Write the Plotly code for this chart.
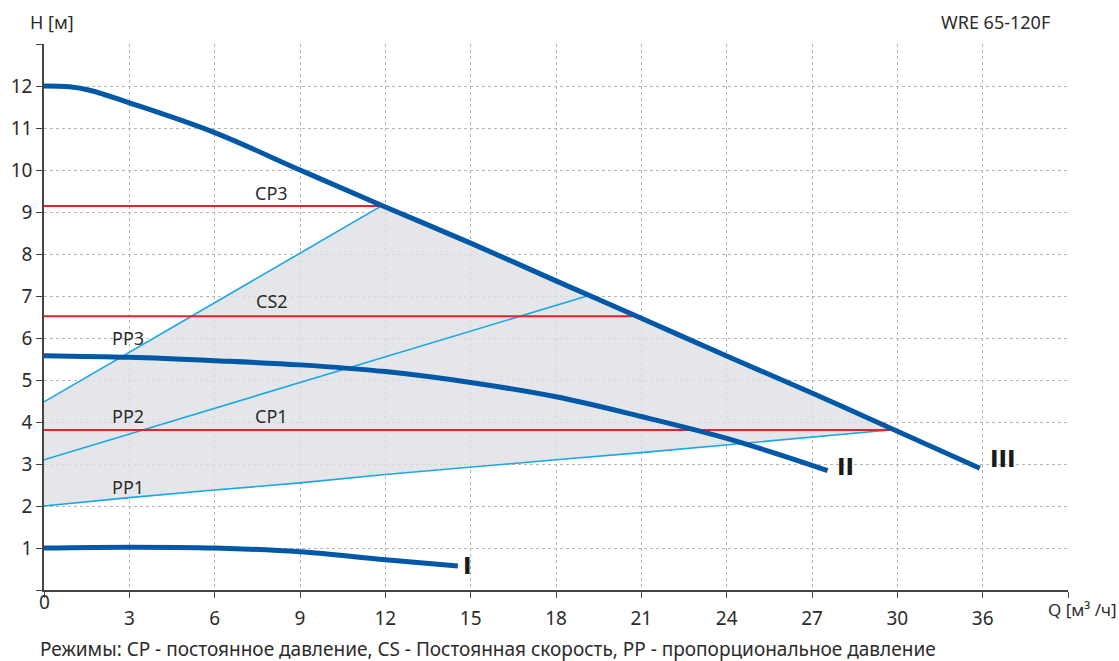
import numpy as np
import plotly.graph_objects as go

# ---- data ----
x_tick_vals = [0, 3, 6, 9, 12, 15, 18, 21, 24, 27, 30, 33, 36]
x_tick_text = ["", "3", "6", "9", "12", "15", "18", "21", "24", "27", "30", "36", ""]
y_tick_vals = list(range(0, 14))
y_tick_text = [""] + [str(v) for v in range(1, 13)] + [""]

curve3_x = [0, 0.9, 1.6, 3, 6, 9, 12, 15, 18, 21, 24, 27, 30, 32.9]
curve3_y = [12.0, 11.98, 11.9, 11.6, 10.89, 10.0, 9.12, 8.26, 7.36, 6.47, 5.57, 4.69, 3.78, 2.9]

curve2_x = [0, 3, 6, 9, 12, 15, 18, 21, 24, 27, 27.55]
curve2_y = [5.58, 5.54, 5.46, 5.36, 5.2, 4.94, 4.6, 4.13, 3.61, 2.97, 2.84]

curve1_x = [0, 3, 6, 9, 12, 14.55]
curve1_y = [1.0, 1.02, 1.0, 0.91, 0.72, 0.57]

pp1_x = [0, 3, 6, 9, 12, 15, 18, 21, 24, 27, 29.74]
pp1_y = [2.0, 2.2, 2.38, 2.55, 2.75, 2.93, 3.1, 3.27, 3.45, 3.63, 3.81]
pp2_x = [0, 19.09]
pp2_y = [3.1, 7.0]
pp3_x = [0, 11.85]
pp3_y = [4.48, 9.14]

cp3_x = [0, 11.85]; cp3_y = [9.14, 9.14]
cs2_x = [0, 20.67]; cs2_y = [6.52, 6.52]
cp1_x = [0, 29.74]; cp1_y = [3.81, 3.81]

mode_labels = ["CP3", "CS2", "PP3", "PP2", "CP1", "PP1"]
mode_label_x = [8.0, 8.0, 2.95, 2.95, 8.0, 2.95]
mode_label_y = [9.45, 6.88, 6.0, 4.14, 4.14, 2.45]

curve_labels = ["I", "II", "III"]
curve_label_x = [14.66, 27.8, 33.19]
curve_label_y = [0.57, 2.93, 3.12]

# ---- styles ----
DARK_BLUE = "#0058a6"
LIGHT_BLUE = "#1aa7e6"
RED = "#e52129"
TXT = "#2b2b2b"
FONT = "Noto Sans"

fig = go.Figure()

# shaded working area
seg_x = np.linspace(pp1_x[-1], pp3_x[-1], 30)
seg_y = np.interp(seg_x, curve3_x, curve3_y)
fill_x = list(pp1_x) + list(seg_x) + [pp3_x[0], pp1_x[0]]
fill_y = list(pp1_y) + list(seg_y) + [pp3_y[0], pp1_y[0]]
fig.add_trace(go.Scatter(x=fill_x, y=fill_y, mode="lines", fill="toself",
                         fillcolor="rgba(222,224,227,0.8)", line=dict(width=0),
                         hoverinfo="skip", showlegend=False))

for xs, ys in [(pp1_x, pp1_y), (pp2_x, pp2_y), (pp3_x, pp3_y)]:
    fig.add_trace(go.Scatter(x=xs, y=ys, mode="lines", line=dict(color=LIGHT_BLUE, width=1.6),
                             showlegend=False))
for xs, ys in [(cp3_x, cp3_y), (cs2_x, cs2_y), (cp1_x, cp1_y)]:
    fig.add_trace(go.Scatter(x=xs, y=ys, mode="lines", line=dict(color=RED, width=2),
                             showlegend=False))
for xs, ys in [(curve1_x, curve1_y), (curve2_x, curve2_y), (curve3_x, curve3_y)]:
    fig.add_trace(go.Scatter(x=xs, y=ys, mode="lines",
                             line=dict(color=DARK_BLUE, width=5, shape="spline", smoothing=1.0),
                             showlegend=False))

for t, x, y in zip(mode_labels, mode_label_x, mode_label_y):
    fig.add_annotation(x=x, y=y, text=t, showarrow=False, font=dict(family=FONT, size=18, color=TXT))
for t, x, y in zip(curve_labels, curve_label_x, curve_label_y):
    fig.add_annotation(x=x, y=y, text=t, showarrow=False, xanchor="left",
                       font=dict(family="DejaVu Sans", size=23, color="#1a1a1a", weight="bold"))

# origin label
fig.add_annotation(x=0, y=0, yshift=-12, text="0", showarrow=False, yanchor="middle",
                   font=dict(family=FONT, size=19, color=TXT))

fig.add_annotation(xref="paper", yref="paper", x=-0.016, y=1.0, yshift=22, text="H [м]",
                   showarrow=False, xanchor="left", yanchor="middle",
                   font=dict(family=FONT, size=18, color=TXT))
fig.add_annotation(xref="paper", yref="paper", x=0.9845, y=1.0, yshift=22, text="WRE 65-120F",
                   showarrow=False, xanchor="right", yanchor="middle",
                   font=dict(family=FONT, size=18, color=TXT))
fig.add_annotation(xref="paper", yref="paper", x=1.0, y=0, yshift=-19, xshift=-22, text="Q [м³ /ч]",
                   showarrow=False, xanchor="left", yanchor="middle",
                   font=dict(family=FONT, size=17, color=TXT))
fig.add_annotation(xref="paper", yref="paper", x=-0.006, y=0, yshift=-59,
                   text="Режимы: CP - постоянное давление, CS - Постоянная скорость, PP - пропорциональное давление",
                   showarrow=False, xanchor="left", yanchor="middle",
                   font=dict(family=FONT, size=19, color=TXT))

fig.update_xaxes(range=[0, 36], tickmode="array", tickvals=x_tick_vals, ticktext=x_tick_text,
                 showgrid=True, gridcolor="#b5b5b5", griddash="dot", gridwidth=1,
                 showline=True, linecolor="#444", linewidth=1.5, ticks="outside", ticklen=6,
                 tickcolor="#444", zeroline=False, ticklabelstandoff=4,
                 tickfont=dict(family=FONT, size=19, color=TXT))
fig.update_yaxes(range=[0, 13], tickmode="array", tickvals=y_tick_vals, ticktext=y_tick_text,
                 showgrid=True, gridcolor="#b5b5b5", griddash="dot", gridwidth=1,
                 showline=True, linecolor="#444", linewidth=1.5, ticks="outside", ticklen=6,
                 tickcolor="#444", zeroline=False, tickfont=dict(family=FONT, size=19, color=TXT))

fig.update_layout(width=1119, height=661, plot_bgcolor="white", paper_bgcolor="white",
                  margin=dict(l=44, r=51, t=44, b=71, autoexpand=False), showlegend=False)

fig.write_html("out.html", config={"displayModeBar": False},
               post_script="document.body.style.margin='0';document.body.style.overflow='hidden';")
